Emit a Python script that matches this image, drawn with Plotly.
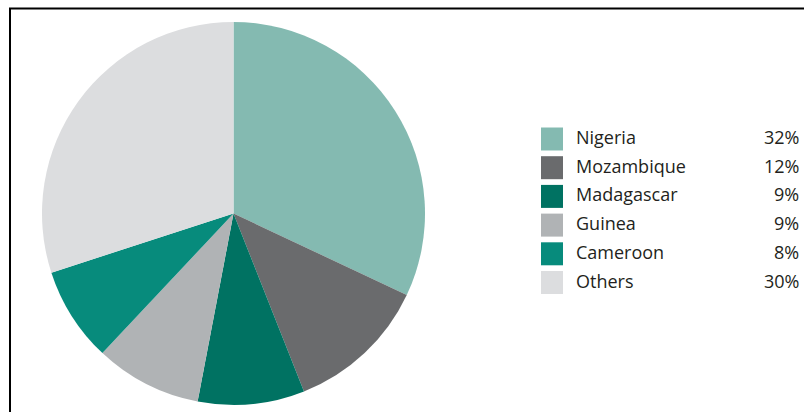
import plotly.graph_objects as go

countries = ["Nigeria", "Mozambique", "Madagascar", "Guinea", "Cameroon", "Others"]
shares = [32, 12, 9, 9, 8, 30]
colors = ["#84BAB1", "#6A6B6D", "#007262", "#B0B3B5", "#078B7C", "#DCDDDF"]

W, H = 804, 412

def px(x):
    return x / W

def py(y):
    return 1 - y / H

fig = go.Figure()
fig.add_trace(go.Pie(
    labels=countries, values=shares, sort=False, direction="clockwise", rotation=0,
    marker=dict(colors=colors, line=dict(width=0)),
    textinfo="none", hoverinfo="label+percent", showlegend=False,
    domain=dict(x=[px(42), px(425)], y=[py(405), py(22)]),
))

shapes = []
annotations = []
row0, step = 137.0, 28.7
for i, (c, v, col) in enumerate(zip(countries, shares, colors)):
    yc = row0 + i * step
    shapes.append(dict(type="rect", xref="paper", yref="paper",
                       x0=px(541), x1=px(563), y0=py(yc + 13.5), y1=py(yc - 9.5),
                       fillcolor=col, line=dict(width=0)))
    annotations.append(dict(xref="paper", yref="paper", x=px(574), y=py(yc),
                            text=c, showarrow=False, xanchor="left", yanchor="middle",
                            font=dict(family="Open Sans", size=18, color="#231F20")))
    annotations.append(dict(xref="paper", yref="paper", x=px(801), y=py(yc),
                            text=f"{v}%", showarrow=False, xanchor="right", yanchor="middle",
                            font=dict(family="Open Sans", size=18, color="#231F20")))

# frame lines
shapes.append(dict(type="line", xref="paper", yref="paper", x0=px(9), x1=px(804),
                   y0=py(8.5), y1=py(8.5), line=dict(color="black", width=2)))
shapes.append(dict(type="line", xref="paper", yref="paper", x0=px(10), x1=px(10),
                   y0=py(8), y1=py(412), line=dict(color="black", width=2)))

fig.update_layout(width=W, height=H, margin=dict(l=0, r=0, t=0, b=0),
                  paper_bgcolor="white", plot_bgcolor="white",
                  shapes=shapes, annotations=annotations)
fig.write_html("out.html")
